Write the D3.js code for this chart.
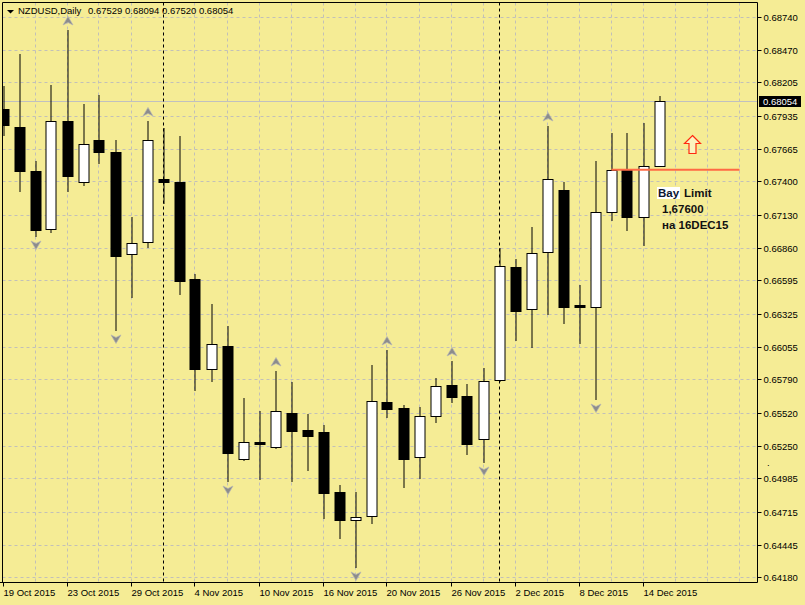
<!DOCTYPE html>
<html><head><meta charset="utf-8">
<script src="https://cdn.jsdelivr.net/npm/d3@7"></script>
<style>html,body{margin:0;padding:0;background:#F5EC95;} svg{display:block;}</style>
</head><body><svg id="c" width="805" height="605"></svg>
<script>
// ---------- data ----------
const dates = ["19 Oct","20 Oct","21 Oct","22 Oct","23 Oct","26 Oct","27 Oct","28 Oct","29 Oct","30 Oct",
  "2 Nov","3 Nov","4 Nov","5 Nov","6 Nov","9 Nov","10 Nov","11 Nov","12 Nov","13 Nov",
  "16 Nov","17 Nov","18 Nov","19 Nov","20 Nov","23 Nov","24 Nov","25 Nov","26 Nov","27 Nov",
  "30 Nov","1 Dec","2 Dec","3 Dec","4 Dec","7 Dec","8 Dec","9 Dec","10 Dec","11 Dec","14 Dec","15 Dec"];
const open  = [0.67989,0.67843,0.67485,0.67013,0.67892,0.67395,0.67737,0.67640,0.66810,0.66907,
  0.67420,0.67395,0.66606,0.65874,0.66061,0.65142,0.65281,0.65240,0.65517,0.65378,
  0.65362,0.64874,0.64646,0.64679,0.65606,0.65557,0.65159,0.65492,0.65744,0.65655,
  0.65305,0.65785,0.66704,0.66362,0.66826,0.67330,0.66395,0.66379,0.67151,0.67493,0.67111,0.67529];
const high  = [0.68176,0.68437,0.67566,0.68184,0.68632,0.68030,0.68103,0.67737,0.67111,0.67892,
  0.67835,0.67770,0.66647,0.66403,0.66224,0.65639,0.65533,0.65858,0.65769,0.65508,
  0.65419,0.64931,0.64874,0.65907,0.66029,0.65582,0.65565,0.65801,0.65940,0.65752,
  0.65883,0.66859,0.66769,0.67029,0.67851,0.67395,0.66558,0.67566,0.67794,0.67794,0.67875,0.68094];
const low   = [0.67770,0.67314,0.66948,0.66981,0.67314,0.67363,0.67542,0.66184,0.66452,0.66859,
  0.67217,0.66476,0.65695,0.65769,0.64955,0.65126,0.64972,0.65224,0.64955,0.65045,
  0.64654,0.64492,0.64256,0.64614,0.65476,0.64907,0.64980,0.65435,0.65598,0.65175,
  0.65110,0.65770,0.66102,0.66045,0.66314,0.66240,0.66078,0.65622,0.67078,0.66997,0.66875,0.67520];
const close = [0.67859,0.67485,0.67005,0.67892,0.67444,0.67705,0.67640,0.66794,0.66899,0.67737,
  0.67395,0.66590,0.65874,0.66078,0.65191,0.65281,0.65264,0.65533,0.65370,0.65329,
  0.64866,0.64646,0.64671,0.65614,0.65549,0.65142,0.65492,0.65736,0.65647,0.65264,
  0.65777,0.66712,0.66346,0.66818,0.67420,0.66379,0.66379,0.67151,0.67493,0.67111,0.67526,0.68054];
const priceTicks = [0.68740,0.68470,0.68205,0.67935,0.67665,0.67400,0.67130,0.66860,0.66595,
  0.66325,0.66055,0.65790,0.65520,0.65250,0.64985,0.64715,0.64445,0.64180];
const labelIdx  = [0,4,8,12,16,20,24,28,32,36,40];
const labelText = ["19 Oct 2015","23 Oct 2015","29 Oct 2015","4 Nov 2015","10 Nov 2015","16 Nov 2015",
  "20 Nov 2015","26 Nov 2015","2 Dec 2015","8 Dec 2015","14 Dec 2015"];
const separators = [10, 31];
const upFractals = [4, 9, 17, 24, 28, 34];
const downFractals = [2, 7, 14, 22, 30, 37];
const lastPrice = 0.68054;
const limitPrice = 0.67495, limitFrom = 38, limitTo = 46;
const signalBar = 43, signalPrice = 0.67780;
const headerText = "0.67529 0.68094 0.67520 0.68054";

// ---------- layout ----------
const L = 2.5, R = 757.5, T = 2.5, B = 582.5;
const BG = "#F5EC95", GRID = "#c2c0b8";
const FONT = "'Liberation Sans', Arial, sans-serif";
const svg = d3.select("#c");
svg.append("rect").attr("width",805).attr("height",605).attr("fill",BG);

const x = d3.scaleLinear().domain([0, 41]).range([3.5, 659.5]);
const y = d3.scaleLinear().domain([0.64180, 0.68740]).range([577.3, 16.7]);
const py = v => Math.round(y(v)) + 0.5;

svg.append("clipPath").attr("id","plot").append("rect")
  .attr("x",L).attr("y",T).attr("width",R-L).attr("height",B-T);
const g = svg.append("g").attr("clip-path","url(#plot)");

// grid
g.selectAll(".hg").data(priceTicks).join("line")
  .attr("x1",L).attr("x2",R).attr("y1",d=>py(d)).attr("y2",d=>py(d))
  .attr("stroke",GRID).attr("stroke-dasharray","3,3");
const vgrid = d3.range(2, 48, 2);
g.selectAll(".vg").data(vgrid).join("line")
  .attr("x1",d=>Math.round(x(d))-0.5).attr("x2",d=>Math.round(x(d))-0.5).attr("y1",T).attr("y2",B)
  .attr("stroke",GRID).attr("stroke-dasharray","3,3");

// current price line
g.append("line").attr("x1",L).attr("x2",R).attr("y1",py(lastPrice)).attr("y2",py(lastPrice))
  .attr("stroke","#c0c0c0");

// period separators
g.selectAll(".sep").data(separators).join("line")
  .attr("x1",d=>Math.round(x(d))-0.5).attr("x2",d=>Math.round(x(d))-0.5).attr("y1",T).attr("y2",B)
  .attr("stroke","#000").attr("stroke-dasharray","3,3");

// candles
const idx = d3.range(open.length);
g.selectAll(".wick").data(idx).join("line")
  .attr("x1",i=>Math.round(x(i))-0.5+0.5).attr("x2",i=>Math.round(x(i))-0.5+0.5)
  .attr("y1",i=>Math.round(y(high[i]))).attr("y2",i=>Math.round(y(low[i])))
  .attr("stroke","#000");
g.selectAll(".body").data(idx).join("rect")
  .attr("x",i=>Math.round(x(i))-5.5+0.5)
  .attr("width",10)
  .attr("y",i=>py(Math.max(open[i],close[i])))
  .attr("height",i=>Math.max(1, py(Math.min(open[i],close[i])) - py(Math.max(open[i],close[i]))))
  .attr("fill",i=>close[i]>=open[i] ? "#fff" : "#000")
  .attr("stroke","#000");

// fractals
const upPath = (cx, cy) => `M${cx},${cy-4.5}L${cx+5},${cy+4}L${cx},${cy+1.5}L${cx-5},${cy+4}Z`;
const dnPath = (cx, cy) => `M${cx},${cy+4.5}L${cx+5},${cy-4}L${cx},${cy-1.5}L${cx-5},${cy-4}Z`;
g.selectAll(".fu").data(upFractals).join("path")
  .attr("d",i=>upPath(Math.round(x(i)), y(high[i])-9))
  .attr("fill","#8c8c8c").attr("stroke","#b4b4b4").attr("stroke-width",0.7);
g.selectAll(".fd").data(downFractals).join("path")
  .attr("d",i=>dnPath(Math.round(x(i)), y(low[i])+8))
  .attr("fill","#8c8c8c").attr("stroke","#b4b4b4").attr("stroke-width",0.7);

// limit line
g.append("line").attr("x1",x(limitFrom)).attr("x2",x(limitTo))
  .attr("y1",y(limitPrice)).attr("y2",y(limitPrice))
  .attr("stroke","#ff6a45").attr("stroke-width",2);

// signal arrow
{
  const cx = Math.round(x(signalBar))+0.5, ty = Math.round(y(signalPrice))+0.5;
  g.append("path")
    .attr("d",`M${cx},${ty}L${cx+8},${ty+8}L${cx+3.5},${ty+8}L${cx+3.5},${ty+18}L${cx-3.5},${ty+18}L${cx-3.5},${ty+8}L${cx-8},${ty+8}Z`)
    .attr("fill","#fbf3c0").attr("stroke","#ff2a10").attr("stroke-width",1.2);
}

// annotation
g.append("rect").attr("x",657).attr("y",187).attr("width",23).attr("height",12).attr("fill","#fff");
const ann = g.append("g").attr("font-family",FONT).attr("font-weight","bold").attr("font-size","11.5px").attr("fill","#111");
ann.append("text").attr("x",658).attr("y",197).attr("fill","#0b1530").text("Bay");
ann.append("text").attr("x",684).attr("y",197).text("Limit");
ann.append("text").attr("x",662).attr("y",213).text("1,67600");
ann.append("text").attr("x",662).attr("y",229).text("на 16DEC15");

// frame
svg.append("line").attr("x1",L).attr("x2",L).attr("y1",T).attr("y2",B).attr("stroke","#000");
svg.append("line").attr("x1",R).attr("x2",R).attr("y1",T).attr("y2",B).attr("stroke","#000");
svg.append("line").attr("x1",L).attr("x2",R).attr("y1",T).attr("y2",T).attr("stroke","#000");
svg.append("line").attr("x1",0).attr("x2",R).attr("y1",B).attr("y2",B).attr("stroke","#000");

// right axis
const ya = svg.append("g").attr("transform",`translate(${R},0)`)
  .call(d3.axisRight(y).tickValues(priceTicks).tickFormat(d3.format(".5f")).tickSize(4).tickPadding(2));
ya.select(".domain").remove();
ya.selectAll(".tick").attr("transform",d=>`translate(0,${py(d)})`);
ya.selectAll("text").attr("font-family",FONT).attr("font-size","9.5px").attr("fill","#000");
ya.selectAll("line").attr("stroke","#000");

// current price label
svg.append("rect").attr("x",759).attr("y",py(lastPrice)-5.5).attr("width",42).attr("height",11).attr("fill","#000");
svg.append("text").attr("x",763).attr("y",py(lastPrice)+3.5).attr("font-family",FONT).attr("font-size","9.5px")
  .attr("fill","#fff").text(d3.format(".5f")(lastPrice));
svg.append("text").attr("x",767).attr("y",466).attr("font-family",FONT).attr("font-size","9.5px").text(".");

// bottom axis
const xa = svg.append("g").attr("transform",`translate(0,${B})`)
  .call(d3.axisBottom(x).tickValues(labelIdx).tickFormat((d,i)=>labelText[i]).tickSize(4).tickPadding(3));
xa.select(".domain").remove();
xa.selectAll(".tick").attr("transform",d=>`translate(${Math.round(x(d))-0.5},0)`);
xa.selectAll("text").attr("font-family",FONT).attr("font-size","9.5px").attr("fill","#000")
  .attr("text-anchor","start").attr("x",0);
xa.selectAll("line").attr("stroke","#000");

// header
svg.append("path").attr("d","M7,10L14,10L10.5,13.5Z").attr("fill","#000");
svg.append("text").attr("x",18).attr("y",14).attr("font-family",FONT).attr("font-size","9.5px").text("NZDUSD,Daily");
svg.append("text").attr("x",88).attr("y",14).attr("font-family",FONT).attr("font-size","9.5px").text(headerText);
</script></body></html>
